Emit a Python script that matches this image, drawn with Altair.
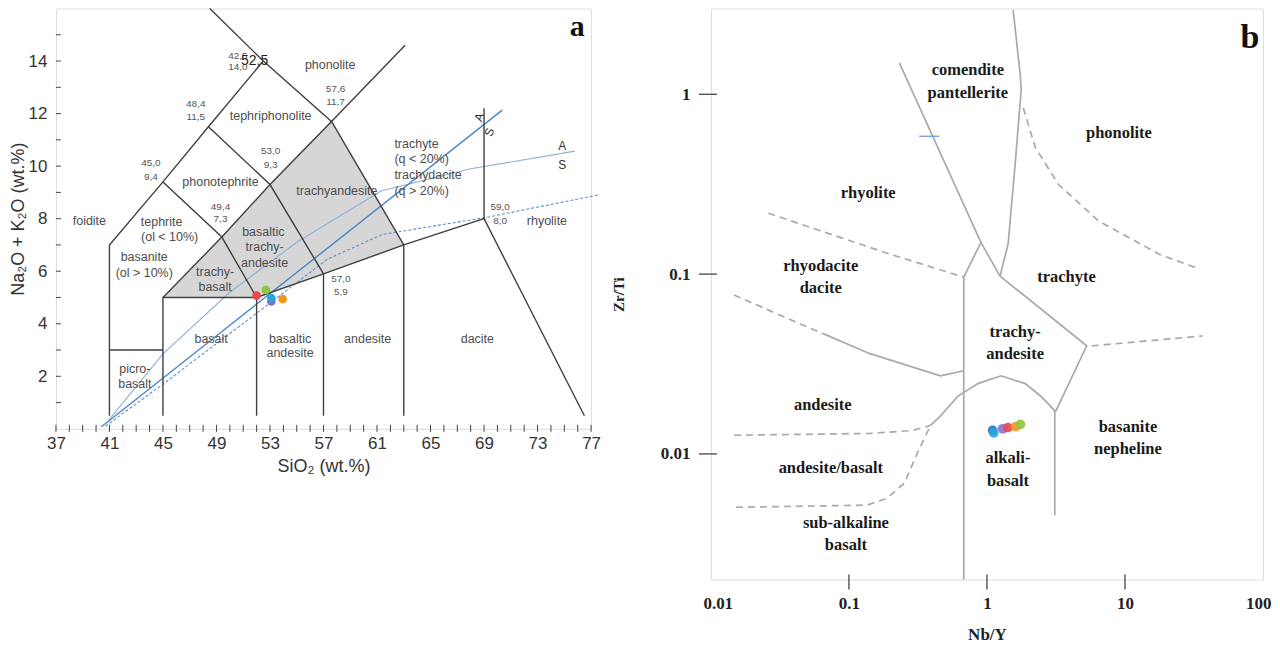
import altair as alt
import pandas as pd

# ---------------- Panel a : TAS diagram ----------------
a_x_ticks = [37, 41, 45, 49, 53, 57, 61, 65, 69, 73, 77]
a_y_ticks = [2, 4, 6, 8, 10, 12, 14]
a_x_minor = list(range(37, 78))
a_y_minor = list(range(1, 16))

# field boundaries (SiO2, Na2O+K2O)
a_bounds = {
    "foid": [(41, 0.5), (41, 7), (45, 9.4), (48.4, 11.5), (52.5, 14)],
    "phon": [(48.5, 16), (52.5, 14), (57.6, 11.7), (63.1, 14.6)],
    "picro": [(41, 3), (45, 3)],
    "base": [(45, 0.5), (45, 5), (52, 5), (57, 5.9), (63, 7), (69, 8), (76.5, 0.5)],
    "upper": [(45, 5), (49.4, 7.3), (53, 9.3), (57.6, 11.7), (63, 7)],
    "teph": [(45, 9.4), (49.4, 7.3), (52, 5)],
    "phte": [(48.4, 11.5), (53, 9.3), (57, 5.9)],
    "v52": [(52, 0.5), (52, 5)],
    "v57": [(57, 0.5), (57, 5.9)],
    "v63": [(63, 0.5), (63, 7)],
    "v69": [(69, 8), (69, 12.2)],
}
a_shade = [(45, 5), (49.4, 7.3), (53, 9.3), (57.6, 11.7), (63, 7), (57, 5.9), (52, 5), (45, 5)]

a_blue_solid = [(40.4, 0.08), (70.36, 12.13)]
a_blue_light = [(40.9, 0.3), (45, 2.85), (50, 5.2), (55, 7.1), (61.3, 9.05), (68, 9.9), (75.8, 10.57)]
a_blue_dash = [(40.7, 0.1), (45, 1.7), (52, 4.4), (57.3, 6.46), (61.4, 7.4), (69.2, 8.05), (77.5, 8.9)]

a_pts_x = [52.0, 52.7, 53.1, 53.1, 53.95]
a_pts_y = [5.07, 5.29, 4.85, 4.98, 4.94]
a_pts_c = ["#e8474e", "#8cc63f", "#8a6fd1", "#29a8e0", "#f7941d"]

a_lab_t = ["foidite", "tephrite", "(ol < 10%)", "basanite", "(ol > 10%)", "phonotephrite",
           "tephriphonolite", "phonolite", "trachyandesite", "basaltic", "trachy-", "andesite",
           "trachy-", "basalt", "basalt", "picro-", "basalt", "basaltic", "andesite",
           "andesite", "dacite", "rhyolite"]
a_lab_x = [39.5, 44.9, 45.5, 43.6, 43.6, 49.3, 53.05, 57.5, 58.0, 52.5, 52.6, 52.6,
           48.9, 48.9, 48.6, 42.9, 42.9, 54.5, 54.5, 60.3, 68.5, 73.7]
a_lab_y = [7.92, 7.87, 7.3, 6.54, 5.93, 9.39, 11.9, 13.84, 9.05, 7.49, 6.92, 6.31,
           5.97, 5.40, 3.42, 2.28, 1.71, 3.42, 2.89, 3.42, 3.42, 7.91]

a_left_t = ["trachyte", "(q < 20%)", "trachydacite", "(q > 20%)"]
a_left_x = [62.3, 62.3, 62.3, 62.3]
a_left_y = [10.84, 10.27, 9.66, 9.05]

a_num_t = ["42,5", "14,0", "48,4", "11,5", "45,0", "9,4", "53,0", "9,3", "49,4", "7,3",
           "57,6", "11,7", "57,0", "5,9", "59,0", "8,0"]
a_num_x = [50.6, 50.6, 47.45, 47.45, 44.1, 44.1, 53.05, 53.05, 49.3, 49.3,
           57.9, 57.9, 58.3, 58.3, 70.2, 70.2]
a_num_y = [14.2, 13.76, 12.36, 11.86, 10.1, 9.58, 10.57, 10.04, 8.44, 7.98,
           12.93, 12.43, 5.70, 5.21, 8.44, 7.91]

a_as_t = ["A", "S"]
a_as_x = [74.84, 74.84]
a_as_y = [10.76, 10.04]
a_rot_t = ["A", "S"]
a_rot_x = [68.64, 69.39]
a_rot_y = [11.86, 11.29]

# ---------------- Panel b : Zr/Ti vs Nb/Y ----------------
b_x_ticks = [0.01, 0.1, 1, 10, 100]
b_y_ticks = [0.01, 0.1, 1]
b_x_tickmarks = [0.1, 1, 10]

b_solid = {
    "com": [(0.232, 1.494), (0.904, 0.150)],
    "apex": [(0.679, 0.0962), (0.904, 0.150), (1.244, 0.0975)],
    "pho": [(1.548, 2.94), (1.742, 1.282), (1.771, 1.059), (1.600, 0.407), (1.423, 0.147), (1.244, 0.0975)],
    "tra": [(1.244, 0.0975), (5.28, 0.0399), (3.14, 0.0172)],
    "alk": [(3.14, 0.0172), (2.48, 0.0208), (1.894, 0.0246), (1.265, 0.0272), (0.860, 0.0246),
            (0.614, 0.0209), (0.462, 0.0163), (0.390, 0.0144)],
    "vert": [(0.679, 0.0962), (0.679, 0.002)],
    "and": [(0.0657, 0.0465), (0.142, 0.0361), (0.460, 0.0272), (0.679, 0.0290)],
    "alkv": [(3.1, 0.0172), (3.1, 0.00456)],
}
b_dash = {
    "rhy": [(0.0261, 0.218), (0.199, 0.129), (0.679, 0.0962)],
    "and": [(0.0147, 0.0765), (0.0604, 0.0477), (0.0657, 0.0465)],
    "ab": [(0.0147, 0.0127), (0.142, 0.0130), (0.288, 0.0135), (0.390, 0.0144)],
    "sub": [(0.0152, 0.00505), (0.135, 0.00519), (0.189, 0.00567), (0.252, 0.00687),
            (0.313, 0.0101), (0.390, 0.0144)],
    "pho": [(1.832, 0.842), (2.24, 0.506), (3.30, 0.315), (6.46, 0.197), (17.7, 0.129), (34.7, 0.1066)],
    "tb": [(5.74, 0.0399), (36.5, 0.0453)],
}
b_blue_seg = [(0.323, 0.584), (0.452, 0.584)]

b_pts_x = [1.10, 1.12, 1.30, 1.42, 1.62, 1.75]
b_pts_y = [0.0135, 0.0131, 0.0138, 0.0140, 0.0142, 0.0146]
b_pts_c = ["#2f6db8", "#29a8e0", "#8a6fd1", "#e8474e", "#f7941d", "#8cc63f"]

b_lab_t = ["comendite", "pantellerite", "phonolite", "rhyolite", "rhyodacite", "dacite",
           "trachyte", "trachy-", "andesite", "andesite", "andesite/basalt", "sub-alkaline",
           "basalt", "alkali-", "basalt", "basanite", "nepheline"]
b_lab_x = [0.727, 0.727, 9.04, 0.138, 0.0625, 0.0625, 3.77, 1.60, 1.60, 0.0646, 0.0739,
           0.0951, 0.0951, 1.42, 1.42, 10.5, 10.5]
b_lab_y = [1.367, 1.019, 0.612, 0.281, 0.1107, 0.0836, 0.0962, 0.0477, 0.0360, 0.0188,
           0.00831, 0.00412, 0.00311, 0.00944, 0.00705, 0.0142, 0.0106]


def poly_df(d):
    rows = []
    for k, pts in d.items():
        for i, (x, y) in enumerate(pts):
            rows.append({"g": k, "o": i, "x": x, "y": y})
    return pd.DataFrame(rows)


def pts_df(pts):
    return pd.DataFrame({"o": range(len(pts)), "x": [p[0] for p in pts], "y": [p[1] for p in pts]})


SANS = "Liberation Sans"
SERIF = "Liberation Serif"

# ---------- build panel a ----------
WA, HA = 536, 421
sxa = alt.Scale(domain=[37, 77], nice=False, zero=False)
sya = alt.Scale(domain=[0, 16], nice=False, zero=False)
axa_x = alt.Axis(values=a_x_ticks, title="SiO₂ (wt.%)", labelFont=SANS, titleFont=SANS,
                 labelFontSize=17, titleFontSize=18, titleFontWeight="normal",
                 labelColor="#333", titleColor="#333", ticks=False, tickSize=0, domain=False,
                 grid=False, labelPadding=7, titlePadding=6, labelFlush=False)
axa_y = alt.Axis(values=a_y_ticks, title="Na₂O + K₂O (wt.%)", labelFont=SANS, titleFont=SANS,
                 labelFontSize=17, titleFontSize=18, titleFontWeight="normal",
                 labelColor="#333", titleColor="#333", ticks=False, tickSize=0, domain=False,
                 grid=False, labelPadding=9, titlePadding=1, labelFlush=False)


def XA():
    return alt.X("x:Q", scale=sxa, axis=axa_x)


def YA():
    return alt.Y("y:Q", scale=sya, axis=axa_y)


shade = alt.Chart(pts_df(a_shade)).mark_line(fill="#d6d6d6", stroke="#d6d6d6", strokeWidth=0.5).encode(
    x=XA(), y=YA(), order="o:Q")

bounds = alt.Chart(poly_df(a_bounds)).mark_line(color="#404040", strokeWidth=1.4).encode(
    x=XA(), y=YA(), detail="g:N", order="o:Q")

blue_s = alt.Chart(pts_df(a_blue_solid)).mark_line(color="#4a86c8", strokeWidth=1.4).encode(
    x=XA(), y=YA(), order="o:Q")
blue_l = alt.Chart(pts_df(a_blue_light)).mark_line(color="#8fb0d6", strokeWidth=1.1).encode(
    x=XA(), y=YA(), order="o:Q")
blue_d = alt.Chart(pts_df(a_blue_dash)).mark_line(color="#5b8fd0", strokeWidth=1.1, strokeDash=[3, 2]).encode(
    x=XA(), y=YA(), order="o:Q")

xt_df = pd.DataFrame({"x": a_x_minor})
yt_df = pd.DataFrame({"y": a_y_minor})
a_xt = alt.Chart(xt_df).mark_rule(color="#444", strokeWidth=1).encode(
    x=XA(), y=alt.value(HA - 4), y2=alt.value(HA + 3))
a_yt = alt.Chart(yt_df).mark_rule(color="#444", strokeWidth=1).encode(
    y=YA(), x=alt.value(0), x2=alt.value(5))

a_lab = alt.Chart(pd.DataFrame({"t": a_lab_t, "x": a_lab_x, "y": a_lab_y})).mark_text(
    font=SANS, fontSize=12.5, color="#4d4d4d", baseline="middle").encode(x=XA(), y=YA(), text="t:N")
a_left = alt.Chart(pd.DataFrame({"t": a_left_t, "x": a_left_x, "y": a_left_y})).mark_text(
    font=SANS, fontSize=12.5, color="#4d4d4d", baseline="middle", align="left").encode(x=XA(), y=YA(), text="t:N")
a_num = alt.Chart(pd.DataFrame({"t": a_num_t, "x": a_num_x, "y": a_num_y})).mark_text(
    font=SANS, fontSize=10, color="#555", baseline="middle").encode(x=XA(), y=YA(), text="t:N")
a_525 = alt.Chart(pd.DataFrame({"t": ["52,5"], "x": [51.85], "y": [13.99]})).mark_text(
    font=SANS, fontSize=14, color="#222", baseline="middle").encode(x=XA(), y=YA(), text="t:N")
a_as = alt.Chart(pd.DataFrame({"t": a_as_t, "x": a_as_x, "y": a_as_y})).mark_text(
    font=SANS, fontSize=12, color="#333", baseline="middle").encode(x=XA(), y=YA(), text="t:N")
a_rot = alt.Chart(pd.DataFrame({"t": a_rot_t, "x": a_rot_x, "y": a_rot_y})).mark_text(
    font=SANS, fontSize=12, color="#333", baseline="middle", angle=290).encode(x=XA(), y=YA(), text="t:N")
a_tag = alt.Chart(pd.DataFrame({"t": ["a"], "x": [75.96], "y": [15.3]})).mark_text(
    font=SERIF, fontSize=30, fontWeight="bold", color="#111", baseline="middle").encode(x=XA(), y=YA(), text="t:N")

a_pts = alt.Chart(pd.DataFrame({"x": a_pts_x, "y": a_pts_y, "c": a_pts_c})).mark_circle(
    size=75, opacity=1).encode(x=XA(), y=YA(), color=alt.Color("c:N", scale=None))

panel_a = alt.layer(shade, blue_l, blue_s, blue_d, bounds, a_xt, a_yt, a_lab, a_left, a_num, a_525,
                    a_as, a_rot, a_tag, a_pts).properties(width=WA, height=HA)

# ---------- build panel b ----------
WB, HB = 553, 572
sxb = alt.Scale(type="log", domain=[0.01, 100], nice=False)
syb = alt.Scale(type="log", domain=[0.002, 3], nice=False)
lab_expr = "'' + datum.value"
axb_x = alt.Axis(values=b_x_ticks, labelExpr=lab_expr, title="Nb/Y", labelFont=SERIF, titleFont=SERIF,
                 labelFontSize=17, titleFontSize=17, labelFontWeight="bold", titleFontWeight="bold",
                 labelColor="#222", titleColor="#222", ticks=False, tickSize=0, domain=False, grid=False,
                 labelPadding=16, titlePadding=15, labelFlush=True, labelFlushOffset=8)
axb_y = alt.Axis(values=b_y_ticks, labelExpr=lab_expr, title="Zr/Ti", labelFont=SERIF, titleFont=SERIF,
                 labelFontSize=17, titleFontSize=15, labelFontWeight="bold", titleFontWeight="bold",
                 labelColor="#222", titleColor="#222", ticks=False, tickSize=0, domain=False, grid=False,
                 labelPadding=21, titlePadding=34, labelFlush=False)


def XB():
    return alt.X("x:Q", scale=sxb, axis=axb_x)


def YB():
    return alt.Y("y:Q", scale=syb, axis=axb_y)


b_sol = alt.Chart(poly_df(b_solid)).mark_line(color="#a9a9a9", strokeWidth=1.7).encode(
    x=XB(), y=YB(), detail="g:N", order="o:Q")
b_das = alt.Chart(poly_df(b_dash)).mark_line(color="#a9a9a9", strokeWidth=1.7, strokeDash=[7, 5]).encode(
    x=XB(), y=YB(), detail="g:N", order="o:Q")
b_blue = alt.Chart(pts_df(b_blue_seg)).mark_line(color="#7fa6d9", strokeWidth=1.5).encode(
    x=XB(), y=YB(), order="o:Q")
b_xt = alt.Chart(pd.DataFrame({"x": b_x_tickmarks})).mark_rule(color="#444", strokeWidth=1.3).encode(
    x=XB(), y=alt.value(HB - 5), y2=alt.value(HB + 10))
b_yt = alt.Chart(pd.DataFrame({"y": b_y_ticks})).mark_rule(color="#444", strokeWidth=1.3).encode(
    y=YB(), x=alt.value(-12), x2=alt.value(6))
b_lab = alt.Chart(pd.DataFrame({"t": b_lab_t, "x": b_lab_x, "y": b_lab_y})).mark_text(
    font=SERIF, fontSize=16.5, fontWeight="bold", color="#1a1a1a", baseline="middle").encode(
    x=XB(), y=YB(), text="t:N")
b_tag = alt.Chart(pd.DataFrame({"t": ["b"], "x": [80.4], "y": [2.05]})).mark_text(
    font=SERIF, fontSize=34, fontWeight="bold", color="#111", baseline="middle").encode(
    x=XB(), y=YB(), text="t:N")
b_pts = alt.Chart(pd.DataFrame({"x": b_pts_x, "y": b_pts_y, "c": b_pts_c})).mark_circle(
    size=95, opacity=0.9).encode(x=XB(), y=YB(), color=alt.Color("c:N", scale=None))

panel_b = alt.layer(b_das, b_sol, b_blue, b_xt, b_yt, b_lab, b_tag, b_pts).properties(width=WB, height=HB)

chart = alt.hconcat(panel_a, panel_b, spacing=9).properties(
    padding={"left": 0, "top": -4, "right": 0, "bottom": 0}).configure_view(
    stroke="#444", strokeWidth=2).configure(background="white")

chart.save("out.html", embed_options={"renderer": "svg", "actions": False})
